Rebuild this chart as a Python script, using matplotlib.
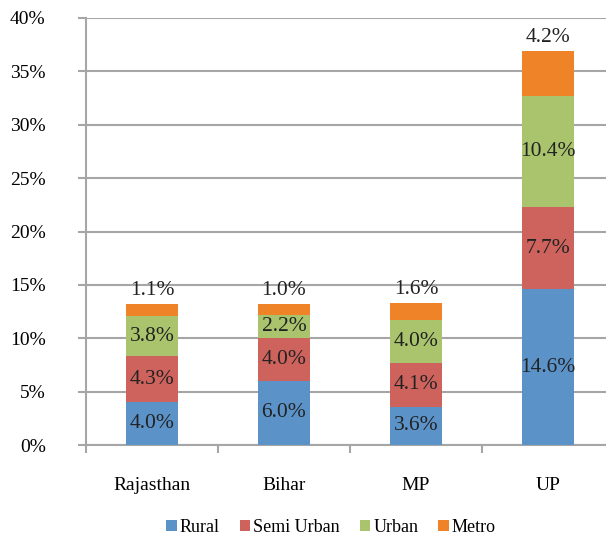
import numpy as np
import matplotlib.pyplot as plt

plt.rcParams['font.family'] = ['Liberation Serif', 'DejaVu Serif']

states = ['Rajasthan', 'Bihar', 'MP', 'UP']
series = ['Rural', 'Semi Urban', 'Urban', 'Metro']
rural = [4.0, 6.0, 3.6, 14.6]
semi_urban = [4.3, 4.0, 4.1, 7.7]
urban = [3.8, 2.2, 4.0, 10.4]
metro = [1.1, 1.0, 1.6, 4.2]
colors = ['#5B93C9', '#CE625C', '#A9C46D', '#EE8427']

fig = plt.figure(figsize=(6.06, 5.36), dpi=100)
ax = fig.add_axes([86/606, 91/536, 528/606, 427/536])

x = np.arange(len(states))
bottom = np.zeros(len(states))
for name, vals, c in zip(series, [rural, semi_urban, urban, metro], colors):
    vals = np.array(vals)
    ax.bar(x, vals, 0.394, bottom=bottom, color=c, label=name, zorder=3)
    for xi, b, v in zip(x, bottom, vals):
        if name == 'Metro':
            ax.text(xi, b + v + 0.4, f'{v:.1f}%', ha='center', va='bottom',
                    fontsize=15.5, color='#222222', zorder=4)
        else:
            ax.text(xi, b + v / 2, f'{v:.1f}%', ha='center', va='center',
                    fontsize=15.5, color='#222222', zorder=4)
    bottom += vals

ax.set_xlim(-0.5, 3.5)
ax.set_ylim(0, 40)
ax.set_yticks(np.arange(0, 41, 5))
ax.set_yticklabels([f'{t}%' for t in range(0, 41, 5)], fontsize=14)
ax.yaxis.grid(True, color='#A6A6A6', linewidth=1.5, zorder=0)
ax.set_xticks(x)
ax.set_xticklabels(states, fontsize=14)
ax.set_xticks(np.arange(-0.5, 4, 1), minor=True)
ax.tick_params(axis='x', which='major', length=0, pad=23)
ax.tick_params(axis='x', which='minor', length=6, width=1.5, color='#A6A6A6', direction='out')
ax.tick_params(axis='y', length=6, width=1.5, color='#A6A6A6', pad=23)
for s in ['top', 'right']:
    ax.spines[s].set_visible(False)
for s in ['left', 'bottom']:
    ax.spines[s].set_color('#A6A6A6')
    ax.spines[s].set_linewidth(1.5)

fig.legend(loc='center', bbox_to_anchor=(0.546, 0.016), ncol=4, frameon=False,
           fontsize=13, handlelength=0.6, handleheight=0.6, handletextpad=0.15,
           columnspacing=1.1)

fig.savefig('out.png')
